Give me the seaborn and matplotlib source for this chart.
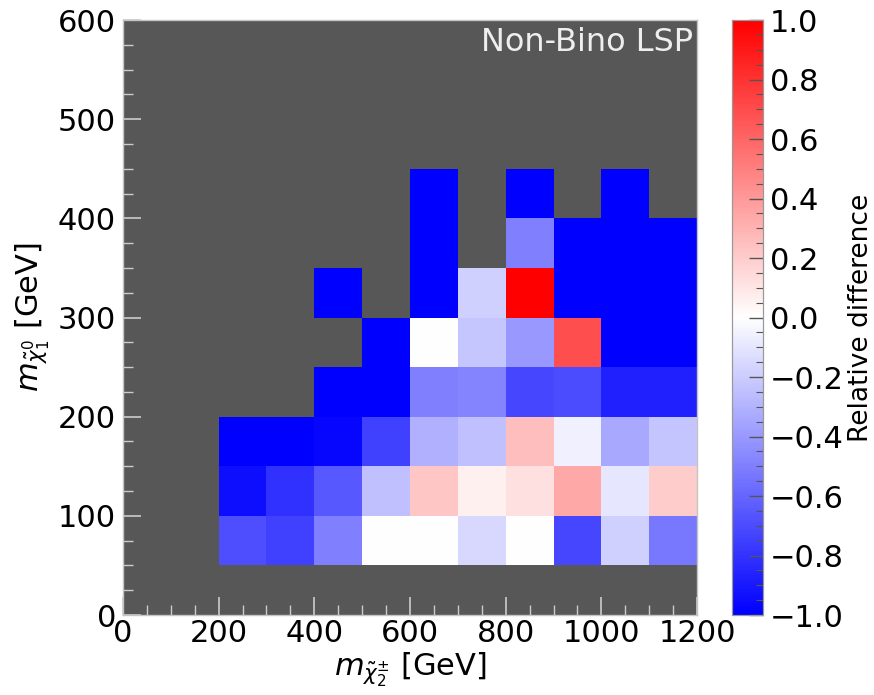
import numpy as np
import pandas as pd
import matplotlib
matplotlib.use("Agg")
import matplotlib.pyplot as plt
import seaborn as sns
from matplotlib.ticker import MultipleLocator, FuncFormatter

# lower bin edges (GeV)
x_lo = [200, 300, 400, 500, 600, 700, 800, 900, 1000, 1100]
y_lo = [50, 100, 150, 200, 250, 300, 350, 400]
nan = np.nan

# relative difference, one list per neutralino-mass bin (bottom -> top)
row_50 = [-0.69, -0.75, -0.50, 0.00, 0.00, -0.15, 0.00, -0.72, -0.18, -0.53]
row_100 = [-0.94, -0.81, -0.65, -0.25, 0.22, 0.06, 0.12, 0.34, -0.10, 0.20]
row_150 = [-1.00, -1.00, -0.97, -0.75, -0.31, -0.25, 0.25, -0.06, -0.34, -0.23]
row_200 = [nan, nan, -1.00, -1.00, -0.50, -0.48, -0.72, -0.70, -0.87, -0.87]
row_250 = [nan, nan, nan, -1.00, 0.00, -0.22, -0.40, 0.69, -1.00, -1.00]
row_300 = [nan, nan, -1.00, nan, -1.00, -0.18, 1.00, -1.00, -1.00, -1.00]
row_350 = [nan, nan, nan, nan, -1.00, nan, -0.50, -1.00, -1.00, -1.00]
row_400 = [nan, nan, nan, nan, -1.00, nan, -1.00, nan, -1.00, nan]
rows = [row_50, row_100, row_150, row_200, row_250, row_300, row_350, row_400]

x_step, y_step = 100, 50
x_max, y_max = 1200, 600

# full grid covering the whole axes, empty bins are NaN
grid = pd.DataFrame(np.nan,
                    index=np.arange(0, y_max, y_step),
                    columns=np.arange(0, x_max, x_step))
for y, vals in zip(y_lo, rows):
    for x, v in zip(x_lo, vals):
        grid.loc[y, x] = v

plt.rcParams['font.family'] = 'DejaVu Sans'
plt.rcParams['mathtext.fontset'] = 'dejavusans'

fig = plt.figure(figsize=(8.74, 6.95), dpi=100)
ax = fig.add_axes([0.1407, 0.1151, 0.6568, 0.8561])
cax = fig.add_axes([0.8375, 0.1151, 0.0355, 0.8561])

bg = "#575757"
ax.set_facecolor(bg)

sns.heatmap(grid, cmap="bwr", vmin=-1, vmax=1, ax=ax, cbar_ax=cax,
            xticklabels=False, yticklabels=False)

ax.set_xlim(0, x_max / x_step)
ax.set_ylim(0, y_max / y_step)
for s in ax.spines.values():
    s.set_visible(True)
    s.set_color("#c4c4c4")
    s.set_linewidth(1.0)

ax.xaxis.set_major_locator(MultipleLocator(2))
ax.xaxis.set_minor_locator(MultipleLocator(0.5))
ax.xaxis.set_major_formatter(FuncFormatter(lambda v, p: f"{int(round(v * x_step))}"))
ax.yaxis.set_major_locator(MultipleLocator(2))
ax.yaxis.set_minor_locator(MultipleLocator(0.5))
ax.yaxis.set_major_formatter(FuncFormatter(lambda v, p: f"{int(round(v * y_step))}"))

ax.tick_params(which="both", direction="in", color="#cccccc",
               labelsize=22, labelcolor="black")
ax.tick_params(axis="x", which="both", pad=3)
ax.tick_params(axis="y", which="both", pad=5)
ax.tick_params(which="major", length=13, width=1.2)
ax.tick_params(which="minor", length=7, width=1.0)

ax.set_xlabel(r"$m_{\tilde{\chi}_2^{\pm}}$ [GeV]", fontsize=22, labelpad=2)
ax.set_ylabel(r"$m_{\tilde{\chi}_1^{0}}$ [GeV]", fontsize=22, labelpad=4)

ax.text(0.993, 0.988, "Non-Bino LSP", transform=ax.transAxes, ha="right",
        va="top", color="#eeeeee", fontsize=23)

# colorbar
cax.yaxis.set_major_locator(MultipleLocator(0.2))
cax.yaxis.set_minor_locator(MultipleLocator(0.05))
cax.yaxis.set_major_formatter(FuncFormatter(lambda v, p: f"{v:.1f}".replace("-", "\u2212")))
cax.tick_params(which="both", direction="in", color="#555555",
                labelsize=22, pad=5)
cax.tick_params(which="major", length=10, width=1.0)
cax.tick_params(which="minor", length=5, width=0.8)
cax.set_ylabel("Relative difference", fontsize=19, labelpad=3)
for s in cax.spines.values():
    s.set_visible(True)
    s.set_color("#999999")
    s.set_linewidth(0.8)

fig.savefig("out.png", dpi=100)
